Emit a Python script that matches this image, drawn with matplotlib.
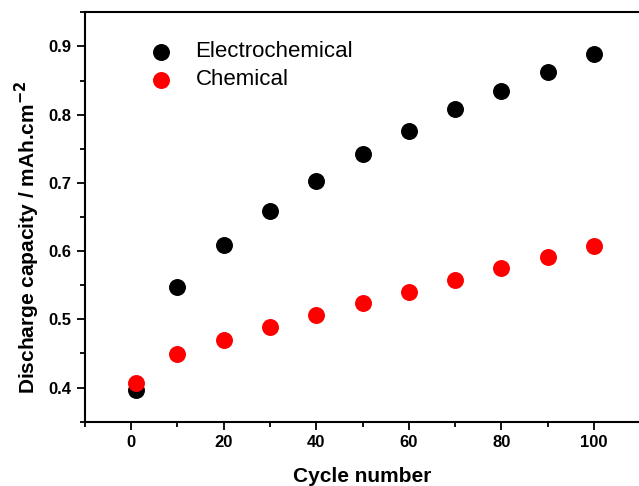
import matplotlib
matplotlib.use("Agg")
import matplotlib.pyplot as plt
from matplotlib.ticker import MultipleLocator

plt.rcParams['font.family'] = ['Liberation Sans', 'DejaVu Sans']

# cycle numbers and discharge capacities (mAh/cm2)
cycles = [1, 10, 20, 30, 40, 50, 60, 70, 80, 90, 100]
electrochemical = [0.396, 0.547, 0.609, 0.659, 0.703, 0.742, 0.776, 0.808, 0.835, 0.863, 0.889]
chemical = [0.406, 0.449, 0.470, 0.489, 0.507, 0.524, 0.540, 0.558, 0.575, 0.591, 0.608]

fig = plt.figure(figsize=(6.39, 4.86), dpi=100)
ax = fig.add_axes([84.7/639, 1 - 421.7/486, 555.6/639, 409.4/486])

ax.scatter(cycles, electrochemical, s=125, color='black', label='Electrochemical', zorder=3)
ax.scatter(cycles, chemical, s=125, color='red', label='Chemical', zorder=4)

ax.set_xlim(-10, 110)
ax.set_ylim(0.35, 0.95)
ax.xaxis.set_major_locator(MultipleLocator(20))
ax.xaxis.set_minor_locator(MultipleLocator(10))
ax.yaxis.set_major_locator(MultipleLocator(0.1))
ax.yaxis.set_minor_locator(MultipleLocator(0.05))

for s in ax.spines.values():
    s.set_linewidth(1.5)

ax.tick_params(which='major', direction='out', length=6, width=1.3, labelsize=12)
ax.tick_params(which='minor', direction='out', length=3.5, width=1.3)
for lab in ax.get_xticklabels() + ax.get_yticklabels():
    lab.set_fontweight('bold')

ax.set_xlabel('Cycle number', fontsize=15, fontweight='bold', labelpad=12)
ax.set_ylabel('Discharge capacity / mAh.cm$^{\\mathbf{-2}}$', fontsize=15, fontweight='bold')
ax.yaxis.set_label_coords(-0.077, 0.45)

ax.legend(loc='upper left', bbox_to_anchor=(0.098, 0.956), frameon=False, fontsize=16,
          borderpad=0, handlelength=1.0, handletextpad=1.04, labelspacing=0.315,
          scatterpoints=1)

fig.savefig('out.png', dpi=100)
